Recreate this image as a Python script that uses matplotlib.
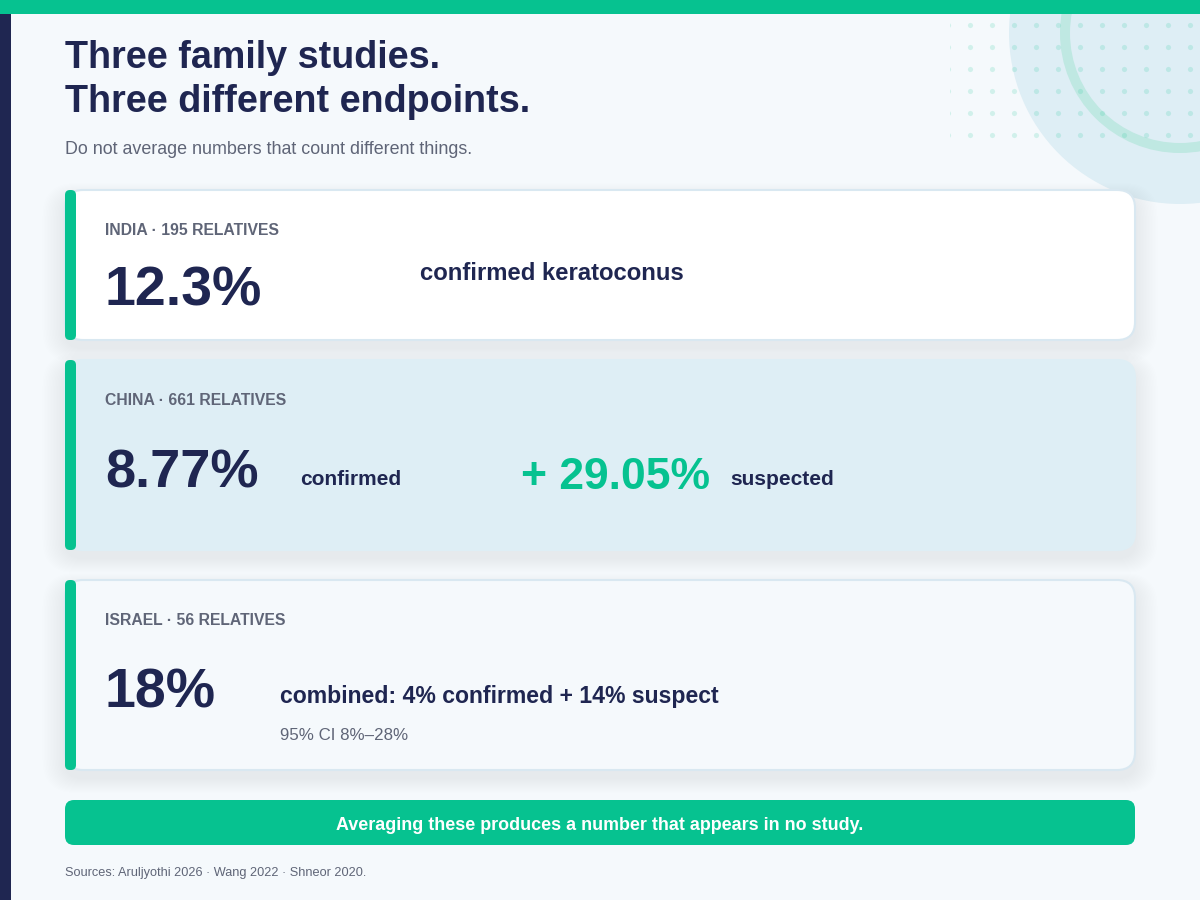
import numpy as np
import matplotlib
matplotlib.use("Agg")
import matplotlib.pyplot as plt
from matplotlib.patches import FancyBboxPatch, Circle, Rectangle

plt.rcParams['font.family'] = ['Liberation Sans', 'DejaVu Sans']

# data
countries = ["INDIA", "CHINA", "ISRAEL"]
relatives = [195, 661, 56]
headline = ["12.3%", "8.77%", "18%"]
headline_note = ["confirmed keratoconus", "confirmed",
                 "combined: 4% confirmed + 14% suspect"]
china_suspected = "+ 29.05%"
israel_ci = "95% CI 8%\u201328%"
title_lines = ["Three family studies.", "Three different endpoints."]
subtitle = "Do not average numbers that count different things."
banner = "Averaging these produces a number that appears in no study."
sources = "Sources: Aruljyothi 2026 \u00b7 Wang 2022 \u00b7 Shneor 2020."

GREEN = "#06c290"
NAVY = "#1f2651"
GREY = "#5f6577"
BG = "#f5f9fc"
PALE = "#deeef5"
BORDER = "#d9e8f1"

fig = plt.figure(figsize=(12, 9), dpi=100)
fig.patch.set_facecolor(BG)
ax = fig.add_axes([0, 0, 1, 1])
ax.set_xlim(0, 1200)
ax.set_ylim(900, 0)
ax.axis("off")
ax.set_facecolor(BG)

# decoration top right
ax.add_patch(Circle((1180, 33), 171, facecolor=PALE, edgecolor="none", zorder=1))
ax.add_patch(Circle((1180, 33), 115, fill=False, edgecolor="#bfe8e2", lw=7.2, zorder=2))
gx, gy = np.meshgrid(np.arange(948, 1200, 22), np.arange(25, 140, 22))
dots = ax.scatter(gx.ravel(), gy.ravel(), s=14, color=GREEN, alpha=0.15,
                  linewidths=0, zorder=3)
clip = Rectangle((950, 14), 260, 140, transform=ax.transData)
dots.set_clip_path(clip)

# frame bars
ax.add_patch(Rectangle((0, 0), 1200, 14, facecolor=GREEN, edgecolor="none", zorder=10))
ax.add_patch(Rectangle((0, 14), 11, 886, facecolor=NAVY, edgecolor="none", zorder=10))

# heading
ax.text(65, 68, title_lines[0], fontsize=27.2, fontweight="bold", color=NAVY,
        va="baseline", zorder=5)
ax.text(65, 112, title_lines[1], fontsize=27.2, fontweight="bold", color=NAVY,
        va="baseline", zorder=5)
ax.text(65, 154, subtitle, fontsize=12.9, color=GREY, va="baseline", zorder=5)

# cards
cards = [(190, 340, "white", BORDER), (360, 550, PALE, PALE), (580, 770, BG, BORDER)]
x0, x1 = 65, 1135
for top, bot, fc, ec in cards:
    h = bot - top
    # soft shadow
    for k in range(1, 16):
        ax.add_patch(FancyBboxPatch((x0 - k * 1.5, top + 8 - k * 1.0),
                                    x1 - x0 + k * 3.0, h + k * 2.0,
                                    boxstyle="round,pad=0,rounding_size=%d" % (18 + k),
                                    facecolor=NAVY, edgecolor="none",
                                    alpha=0.0045, zorder=4))
    ax.add_patch(FancyBboxPatch((x0, top), x1 - x0, h,
                                boxstyle="round,pad=0,rounding_size=18",
                                facecolor=fc, edgecolor=ec, lw=1.5, zorder=5))
    ax.add_patch(FancyBboxPatch((x0, top), 11, h,
                                boxstyle="round,pad=0,rounding_size=5",
                                facecolor=GREEN, edgecolor="none", zorder=6))

tops = [c[0] for c in cards]
for i, top in enumerate(tops):
    ax.text(105, top + 45, f"{countries[i]} \u00b7 {relatives[i]} RELATIVES",
            fontsize=11.3, fontweight="bold", color=GREY, va="baseline", zorder=7)

# India
ax.text(105, tops[0] + 116, headline[0], fontsize=40, fontweight="bold",
        color=NAVY, va="baseline", zorder=7)
ax.text(420, tops[0] + 90, headline_note[0], fontsize=17.2, fontweight="bold",
        color=NAVY, va="baseline", zorder=7)

# China
ax.text(105, tops[1] + 128, headline[1], fontsize=39, fontweight="bold",
        color=NAVY, va="baseline", zorder=7)
ax.text(300, tops[1] + 125, headline_note[1], fontsize=15, fontweight="bold",
        color=NAVY, va="baseline", zorder=7)
ax.text(521, tops[1] + 129, china_suspected, fontsize=32, fontweight="bold",
        color=GREEN, va="baseline", zorder=7)
ax.text(730, tops[1] + 125, "suspected", fontsize=15, fontweight="bold",
        color=NAVY, va="baseline", zorder=7)

# Israel
ax.text(105, tops[2] + 128, headline[2], fontsize=40, fontweight="bold",
        color=NAVY, va="baseline", zorder=7)
ax.text(280, tops[2] + 123, headline_note[2], fontsize=16.6, fontweight="bold",
        color=NAVY, va="baseline", zorder=7)
ax.text(280, tops[2] + 160, israel_ci, fontsize=12.2, color=GREY,
        va="baseline", zorder=7)

# banner
ax.add_patch(FancyBboxPatch((65, 800), 1070, 45,
                            boxstyle="round,pad=0,rounding_size=9",
                            facecolor=GREEN, edgecolor="none", zorder=5))
ax.text(600, 830, banner, fontsize=12.9, fontweight="bold", color="white",
        ha="center", va="baseline", zorder=7)

ax.text(65, 876, sources, fontsize=9.2, color=GREY, va="baseline", zorder=7)

fig.savefig("out.png", dpi=100, facecolor=BG)
